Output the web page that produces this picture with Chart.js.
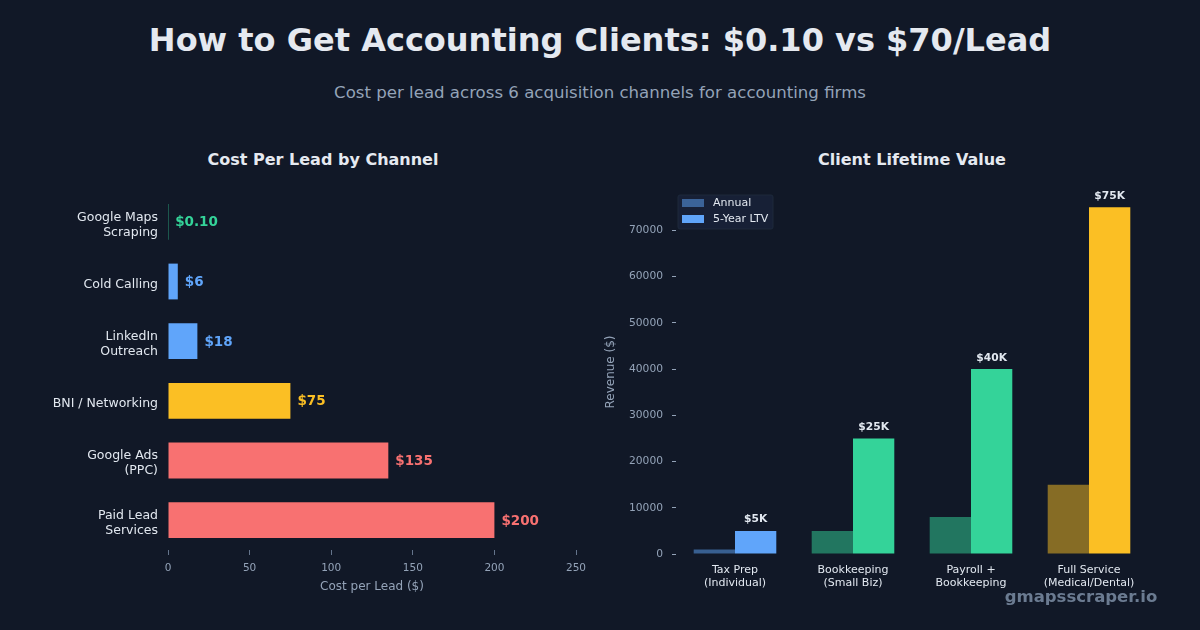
<!DOCTYPE html>
<html>
<head>
<meta charset="utf-8">
<script src="https://cdn.jsdelivr.net/npm/chart.js@4.4.1/dist/chart.umd.min.js"></script>
<style>
  body { margin: 0; width: 1200px; height: 630px; background: #111827; overflow: hidden; position: relative; font-family: 'DejaVu Sans', sans-serif; }
  .txt { position: absolute; white-space: nowrap; transform: translate(-50%, -50%); }
  #title { left: 600px; top: 40px; font-size: 32px; font-weight: bold; color: #e5e9f0; }
  #subtitle { left: 600px; top: 92px; font-size: 16.6px; color: #94a3b8; }
  .sub { top: 159px; font-size: 16px; font-weight: bold; color: #e5e9f0; }
  #watermark { left: 1081px; top: 596px; font-size: 16.5px; font-weight: bold; color: #6b7b91; }
  .box { position: absolute; top: 130px; width: 600px; }
</style>
</head>
<body>
<div class="txt" id="title">How to Get Accounting Clients: $0.10 vs $70/Lead</div>
<div class="txt" id="subtitle">Cost per lead across 6 acquisition channels for accounting firms</div>
<div class="txt sub" style="left:323px">Cost Per Lead by Channel</div>
<div class="txt sub" style="left:912px">Client Lifetime Value</div>
<div class="box" style="left:0; height:468px"><canvas id="cpl" width="600" height="468"></canvas></div>
<div class="box" style="left:600px; height:480px"><canvas id="ltv" width="600" height="480"></canvas></div>
<div class="txt" id="watermark">gmapsscraper.io</div>
<script>
// left chart: cost per lead
const channels = [['Google Maps', 'Scraping'], 'Cold Calling', ['LinkedIn', 'Outreach'], 'BNI / Networking', ['Google Ads', '(PPC)'], ['Paid Lead', 'Services']];
const costPerLead = [0.10, 6, 18, 75, 135, 200];
const costLabels = ['$0.10', '$6', '$18', '$75', '$135', '$200'];
const channelColors = ['#34d399', '#60a5fa', '#60a5fa', '#fbbf24', '#f87171', '#f87171'];

// right chart: lifetime value
const services = [['Tax Prep', '(Individual)'], ['Bookkeeping', '(Small Biz)'], ['Payroll +', 'Bookkeeping'], ['Full Service', '(Medical/Dental)']];
const annualRevenue = [1000, 5000, 8000, 15000];
const ltvRevenue = [5000, 25000, 40000, 75000];
const ltvLabels = ['$5K', '$25K', '$40K', '$75K'];
const serviceColors = ['#60a5fa', '#34d399', '#34d399', '#fbbf24'];
const revenueTicks = [0, 10000, 20000, 30000, 40000, 50000, 60000, 70000];

const FONT = "'DejaVu Sans', sans-serif";
const GRAY = '#94a3b8';
const LIGHT = '#e2e8f0';

function halfAlpha(hex) {
    const n = parseInt(hex.slice(1), 16);
    return `rgba(${n >> 16}, ${(n >> 8) & 255}, ${n & 255}, 0.5)`;
}

// labels at the end of the horizontal bars
const barEndLabels = {
    id: 'barEndLabels',
    afterDatasetsDraw(chart) {
        const ctx = chart.ctx;
        const meta = chart.getDatasetMeta(0);
        ctx.save();
        ctx.font = `bold 13.5px ${FONT}`;
        ctx.textBaseline = 'middle';
        ctx.textAlign = 'left';
        meta.data.forEach((bar, i) => {
            ctx.fillStyle = channelColors[i];
            ctx.fillText(costLabels[i], bar.x + 7, bar.y + 1);
        });
        ctx.restore();
    }
};

new Chart(document.getElementById('cpl'), {
    type: 'bar',
    data: {
        labels: channels,
        datasets: [{
            label: 'Cost per Lead',
            data: costPerLead,
            backgroundColor: channelColors,
            barPercentage: 0.6,
            categoryPercentage: 1.0,
            inflateAmount: 0
        }]
    },
    options: {
        indexAxis: 'y',
        responsive: false,
        animation: false,
        layout: { padding: { top: 62, right: 24, left: 0, bottom: 0 } },
        plugins: { legend: { display: false }, tooltip: { enabled: false } },
        scales: {
            x: {
                min: 0,
                max: 250,
                ticks: { stepSize: 50, color: GRAY, font: { family: FONT, size: 10.5 }, padding: 7 },
                grid: { drawOnChartArea: false, tickLength: 5, tickColor: '#64748b' },
                border: { display: false },
                title: { display: true, text: 'Cost per Lead ($)', color: GRAY, font: { family: FONT, size: 12 }, padding: { top: 2 } },
                afterFit(scale) { scale.height = 48; }
            },
            y: {
                ticks: { color: LIGHT, font: { family: FONT, size: 12.5, lineHeight: 1.2 }, padding: 10, labelOffset: 3 },
                grid: { display: false, drawTicks: false },
                border: { display: false },
                afterFit(scale) { scale.width = 168; }
            }
        }
    },
    plugins: [barEndLabels]
});

// value labels over the LTV bars + legend inside the plot
const ltvExtras = {
    id: 'ltvExtras',
    afterDatasetsDraw(chart) {
        const ctx = chart.ctx;
        const meta = chart.getDatasetMeta(1);
        ctx.save();
        ctx.font = `bold 10.7px ${FONT}`;
        ctx.fillStyle = LIGHT;
        ctx.textAlign = 'center';
        ctx.textBaseline = 'bottom';
        meta.data.forEach((bar, i) => {
            ctx.fillText(ltvLabels[i], bar.x, bar.y - 6);
        });

        // legend
        const x = chart.chartArea.left + 2, y = chart.chartArea.top + 5;
        ctx.fillStyle = '#172036';
        ctx.strokeStyle = '#1e293b';
        ctx.lineWidth = 1;
        ctx.beginPath();
        ctx.roundRect(x, y, 95, 34, 2);
        ctx.fill();
        ctx.stroke();
        ctx.font = `11px ${FONT}`;
        ctx.textAlign = 'left';
        ctx.textBaseline = 'middle';
        chart.data.datasets.forEach((ds, i) => {
            const ry = y + 4 + i * 16;
            ctx.fillStyle = ds.backgroundColor[0];
            ctx.fillRect(x + 4, ry, 22, 8);
            ctx.fillStyle = LIGHT;
            ctx.fillText(ds.label, x + 35, ry + 4.5);
        });
        ctx.restore();
    }
};

new Chart(document.getElementById('ltv'), {
    type: 'bar',
    data: {
        labels: services,
        datasets: [
            {
                label: 'Annual',
                data: annualRevenue,
                backgroundColor: serviceColors.map(halfAlpha),
                barPercentage: 1.0,
                categoryPercentage: 0.7
            },
            {
                label: '5-Year LTV',
                data: ltvRevenue,
                backgroundColor: serviceColors,
                barPercentage: 1.0,
                categoryPercentage: 0.7
            }
        ]
    },
    options: {
        responsive: false,
        animation: false,
        layout: { padding: { top: 60, right: 52, left: 0, bottom: 0 } },
        plugins: { legend: { display: false }, tooltip: { enabled: false } },
        scales: {
            x: {
                ticks: { color: LIGHT, font: { family: FONT, size: 11, lineHeight: 1.15 }, padding: 10 },
                grid: { display: false, drawTicks: false },
                border: { display: false },
                afterFit(scale) { scale.height = 56; }
            },
            y: {
                min: 0,
                max: 78750,
                ticks: { color: GRAY, font: { family: FONT, size: 10.7 }, padding: 9, callback: v => v },
                afterBuildTicks(scale) { scale.ticks = revenueTicks.map(v => ({ value: v })); },
                grid: { drawOnChartArea: false, tickLength: 4, tickColor: GRAY },
                border: { display: false },
                title: { display: true, text: 'Revenue ($)', color: GRAY, font: { family: FONT, size: 12 } },
                afterFit(scale) { scale.width = 76; }
            }
        }
    },
    plugins: [ltvExtras]
});
</script>
</body>
</html>
